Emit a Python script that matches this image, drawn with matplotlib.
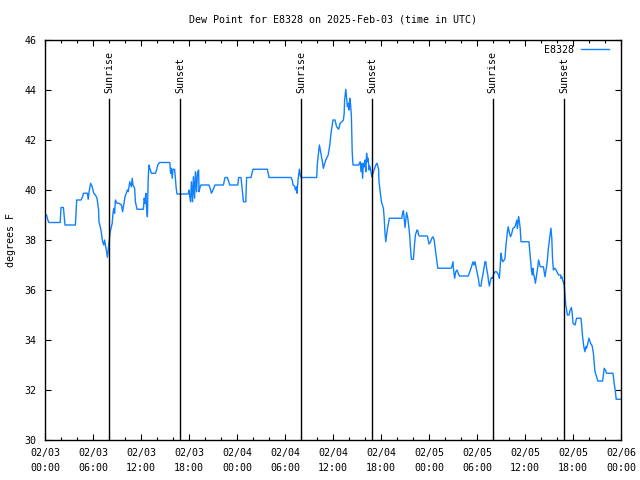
import matplotlib
matplotlib.use("Agg")
import matplotlib.pyplot as plt
import matplotlib.dates as mdates
import numpy as np
import pandas as pd

# hours since 2025-02-03 00:00 UTC
hours = [0.0, 0.2, 0.35, 0.5, 1.9, 2.0, 2.3, 2.5, 3.8, 3.96, 4.5, 4.7, 4.8, 5.3, 5.4, 5.5, 5.7, 5.9, 6.1, 6.3, 6.5, 6.7, 6.75, 7.0, 7.2, 7.35, 7.45, 7.55, 7.7, 7.8, 7.9, 8.05, 8.15, 8.4, 8.5, 8.6, 8.7, 8.8, 9.0, 9.25, 9.55, 9.7, 9.8, 10.0, 10.15, 10.3, 10.4, 10.6, 10.8, 10.9, 11.0, 11.2, 11.3, 11.5, 12.3, 12.4, 12.5, 12.6, 12.7, 12.8, 12.9, 13.0, 13.1, 13.3, 13.8, 13.95, 14.1, 14.3, 15.6, 15.7, 15.8, 15.9, 16.0, 16.2, 16.3, 16.4, 16.5, 17.9, 18.0, 18.1, 18.2, 18.3, 18.45, 18.55, 18.7, 18.8, 18.95, 19.05, 19.2, 19.25, 19.4, 19.5, 20.5, 20.7, 20.8, 21.0, 21.25, 22.3, 22.5, 22.8, 23.1, 24.1, 24.2, 24.5, 24.6, 24.7, 24.8, 25.1, 25.2, 25.75, 25.85, 26.0, 27.8, 27.9, 28.0, 30.75, 30.9, 31.0, 31.2, 31.3, 31.45, 31.5, 31.65, 31.8, 31.9, 32.0, 33.96, 34.05, 34.2, 34.3, 34.45, 34.6, 34.8, 34.9, 35.1, 35.4, 35.6, 35.75, 35.9, 36.0, 36.25, 36.45, 36.7, 36.9, 37.1, 37.3, 37.4, 37.45, 37.6, 37.7, 37.8, 37.9, 38.0, 38.1, 38.2, 38.3, 38.35, 38.4, 38.5, 39.2, 39.4, 39.5, 39.6, 39.7, 39.8, 39.9, 40.0, 40.1, 40.2, 40.3, 40.4, 40.5, 40.6, 40.75, 40.85, 41.0, 41.15, 41.35, 41.5, 41.7, 41.75, 41.9, 42.0, 42.1, 42.3, 42.4, 42.5, 42.6, 42.7, 42.85, 42.96, 43.05, 44.6, 44.7, 44.8, 44.9, 45.0, 45.1, 45.2, 45.35, 45.45, 45.6, 45.7, 45.8, 46.05, 46.2, 46.3, 46.5, 46.6, 46.7, 46.8, 47.8, 47.9, 48.0, 48.2, 48.35, 48.5, 48.65, 48.8, 49.0, 49.1, 50.75, 50.85, 51.0, 51.05, 51.2, 51.35, 51.5, 51.65, 51.8, 52.9, 53.1, 53.3, 53.5, 53.6, 53.75, 53.9, 54.0, 54.2, 54.3, 54.5, 54.6, 54.8, 55.0, 55.1, 55.2, 55.35, 55.45, 55.55, 55.7, 55.8, 55.95, 56.05, 56.25, 56.45, 56.7, 56.8, 56.9, 57.0, 57.1, 57.2, 57.4, 57.5, 57.6, 57.7, 57.8, 57.9, 58.05, 58.2, 58.35, 58.5, 58.75, 59.0, 59.05, 59.2, 59.3, 59.4, 59.45, 59.5, 60.5, 60.6, 60.7, 60.8, 60.9, 61.0, 61.05, 61.2, 61.3, 61.45, 61.6, 61.7, 61.8, 61.9, 62.3, 62.5, 62.6, 62.8, 62.9, 63.0, 63.1, 63.25, 63.35, 63.45, 63.55, 63.75, 64.0, 64.2, 64.45, 64.5, 64.6, 64.7, 64.9, 65.0, 65.1, 65.2, 65.3, 65.5, 65.65, 65.8, 65.9, 66.0, 66.25, 66.45, 67.0, 67.1, 67.2, 67.35, 67.5, 67.6, 67.7, 67.9, 68.0, 68.2, 68.4, 68.55, 68.65, 68.75, 68.95, 69.1, 69.7, 69.8, 69.9, 70.05, 70.2, 71.0, 71.05, 71.15, 71.3, 71.4, 72.0]

dewpoint = [39.0, 39.0, 38.8, 38.7, 38.7, 39.3, 39.3, 38.6, 38.6, 39.6, 39.6, 39.73, 39.87, 39.87, 39.63, 39.9, 40.27, 40.13, 39.87, 39.8, 39.67, 39.2, 38.73, 38.4, 37.93, 37.8, 38.0, 37.8, 37.53, 37.31, 37.6, 38.07, 38.33, 38.67, 39.07, 39.27, 39.07, 39.6, 39.47, 39.47, 39.4, 39.13, 39.33, 39.73, 39.87, 40.0, 39.93, 40.33, 40.13, 40.47, 40.2, 40.07, 39.53, 39.23, 39.23, 39.67, 39.47, 39.87, 39.27, 38.93, 40.47, 41.0, 40.87, 40.67, 40.67, 40.8, 41.0, 41.1, 41.1, 40.67, 40.87, 40.47, 40.83, 40.83, 40.47, 40.07, 39.84, 39.84, 40.0, 39.73, 39.53, 40.33, 39.53, 40.53, 39.67, 40.73, 39.93, 40.67, 40.8, 39.93, 40.13, 40.2, 40.2, 40.0, 39.87, 40.0, 40.2, 40.2, 40.5, 40.5, 40.2, 40.2, 40.5, 40.5, 40.2, 39.87, 39.53, 39.53, 40.5, 40.5, 40.64, 40.83, 40.83, 40.67, 40.5, 40.5, 40.4, 40.2, 40.16, 40.0, 40.13, 39.87, 40.47, 40.83, 40.6, 40.5, 40.5, 41.07, 41.53, 41.8, 41.53, 41.27, 40.87, 41.0, 41.2, 41.4, 41.8, 42.27, 42.6, 42.8, 42.8, 42.53, 42.43, 42.67, 42.73, 42.8, 43.07, 43.6, 44.03, 43.67, 43.33, 43.47, 43.2, 43.67, 43.4, 42.93, 42.27, 41.53, 41.0, 41.0, 41.13, 40.73, 41.07, 40.47, 41.07, 40.93, 41.2, 40.73, 41.47, 41.13, 41.27, 40.8, 40.96, 40.73, 40.53, 40.67, 40.8, 41.0, 41.07, 40.83, 40.33, 39.93, 39.67, 39.47, 39.27, 38.87, 38.27, 37.93, 38.2, 38.53, 38.73, 38.87, 38.87, 39.07, 39.17, 38.87, 38.5, 38.8, 39.1, 38.87, 38.6, 38.13, 37.6, 37.23, 37.23, 37.87, 38.2, 38.4, 38.37, 38.2, 38.16, 38.16, 38.0, 37.84, 37.93, 38.07, 38.13, 38.0, 37.6, 37.13, 36.87, 36.87, 36.93, 37.13, 36.87, 36.47, 36.73, 36.8, 36.67, 36.56, 36.56, 36.73, 36.93, 37.13, 37.0, 37.13, 36.87, 36.73, 36.4, 36.16, 36.16, 36.4, 36.73, 37.13, 37.13, 36.87, 36.6, 36.33, 36.16, 36.4, 36.5, 36.47, 36.6, 36.73, 36.73, 36.6, 36.47, 37.0, 37.47, 37.27, 37.13, 37.2, 37.27, 37.73, 38.0, 38.33, 38.53, 38.27, 38.13, 38.27, 38.47, 38.53, 38.8, 38.47, 38.93, 38.73, 38.47, 38.2, 37.93, 37.93, 37.53, 37.2, 36.8, 36.6, 36.87, 36.67, 36.47, 36.27, 36.6, 36.93, 37.2, 37.07, 36.93, 36.93, 36.53, 36.73, 37.2, 37.6, 37.87, 38.13, 38.47, 38.07, 37.2, 36.8, 36.87, 36.73, 36.6, 36.6, 36.47, 36.53, 36.4, 36.2, 35.8, 35.4, 35.2, 35.0, 35.0, 35.2, 35.3, 35.07, 34.67, 34.6, 34.87, 34.87, 34.53, 34.13, 33.73, 33.53, 33.73, 33.67, 33.93, 34.07, 33.87, 33.76, 33.47, 33.07, 32.73, 32.53, 32.36, 32.36, 32.6, 32.87, 32.8, 32.67, 32.67, 32.53, 32.27, 31.93, 31.63, 31.63]

sun_events_h = [8.03, 16.92, 32.02, 40.92, 55.98, 64.93]
sun_labels = ["Sunrise", "Sunset", "Sunrise", "Sunset", "Sunrise", "Sunset"]

title = "Dew Point for E8328 on 2025-Feb-03 (time in UTC)"
ylabel = "degrees F"
series_name = "E8328"
y_ticks = [30, 32, 34, 36, 38, 40, 42, 44, 46]

start = pd.Timestamp("2025-02-03 00:00")
times = start + pd.to_timedelta(hours, unit="h")
sun_times = start + pd.to_timedelta(sun_events_h, unit="h")

FONT = "DejaVu Sans Mono"
FS = 7.2
plt.rcParams['font.family'] = FONT

fig = plt.figure(figsize=(6.4, 4.8), dpi=100)
ax = fig.add_axes([45/640, 40/480, 576/640, 400/480])

ax.plot(times, dewpoint, color="#1080ff", lw=1.0, label=series_name)

for t, lab in zip(sun_times, sun_labels):
    ax.plot([t, t], [30, 43.64], color="black", lw=1.0)
    ax.text(t, 43.86, lab, rotation=90, ha="center", va="bottom",
            fontsize=FS, family=FONT)

ax.set_xlim(start, start + pd.Timedelta(hours=72))
ax.set_ylim(30, 46)
ax.set_yticks(y_ticks)
ax.xaxis.set_major_locator(mdates.HourLocator(byhour=[0, 6, 12, 18]))
ax.xaxis.set_minor_locator(mdates.HourLocator(byhour=range(0, 24, 2)))
ax.xaxis.set_major_formatter(mdates.DateFormatter("%m/%d\n%H:%M"))

ax.tick_params(axis="both", which="major", direction="in", length=4.5, width=0.8,
               top=True, right=True, labelsize=FS, pad=6)
ax.tick_params(axis="x", which="minor", direction="in", length=2.5, width=0.8,
               top=True, bottom=True)
for lbl in ax.get_xticklabels():
    lbl.set_linespacing(1.6)
for s in ax.spines.values():
    s.set_linewidth(1.0)

ax.set_ylabel(ylabel, fontsize=FS)
ax.yaxis.set_label_coords(-0.05, 0.5)
fig.text(333/640, 1 - 20/480, title, ha="center", va="center", fontsize=FS)

leg = ax.legend(loc="upper right", frameon=False, fontsize=FS, markerfirst=False,
                handlelength=2.8, borderaxespad=0.9, handletextpad=0.7,
                bbox_to_anchor=(1.0, 1.0))
leg.set_bbox_to_anchor((1.0 + 1/576, 1.0 + 8/400), transform=ax.transAxes)

fig.savefig("out.png", dpi=100)
